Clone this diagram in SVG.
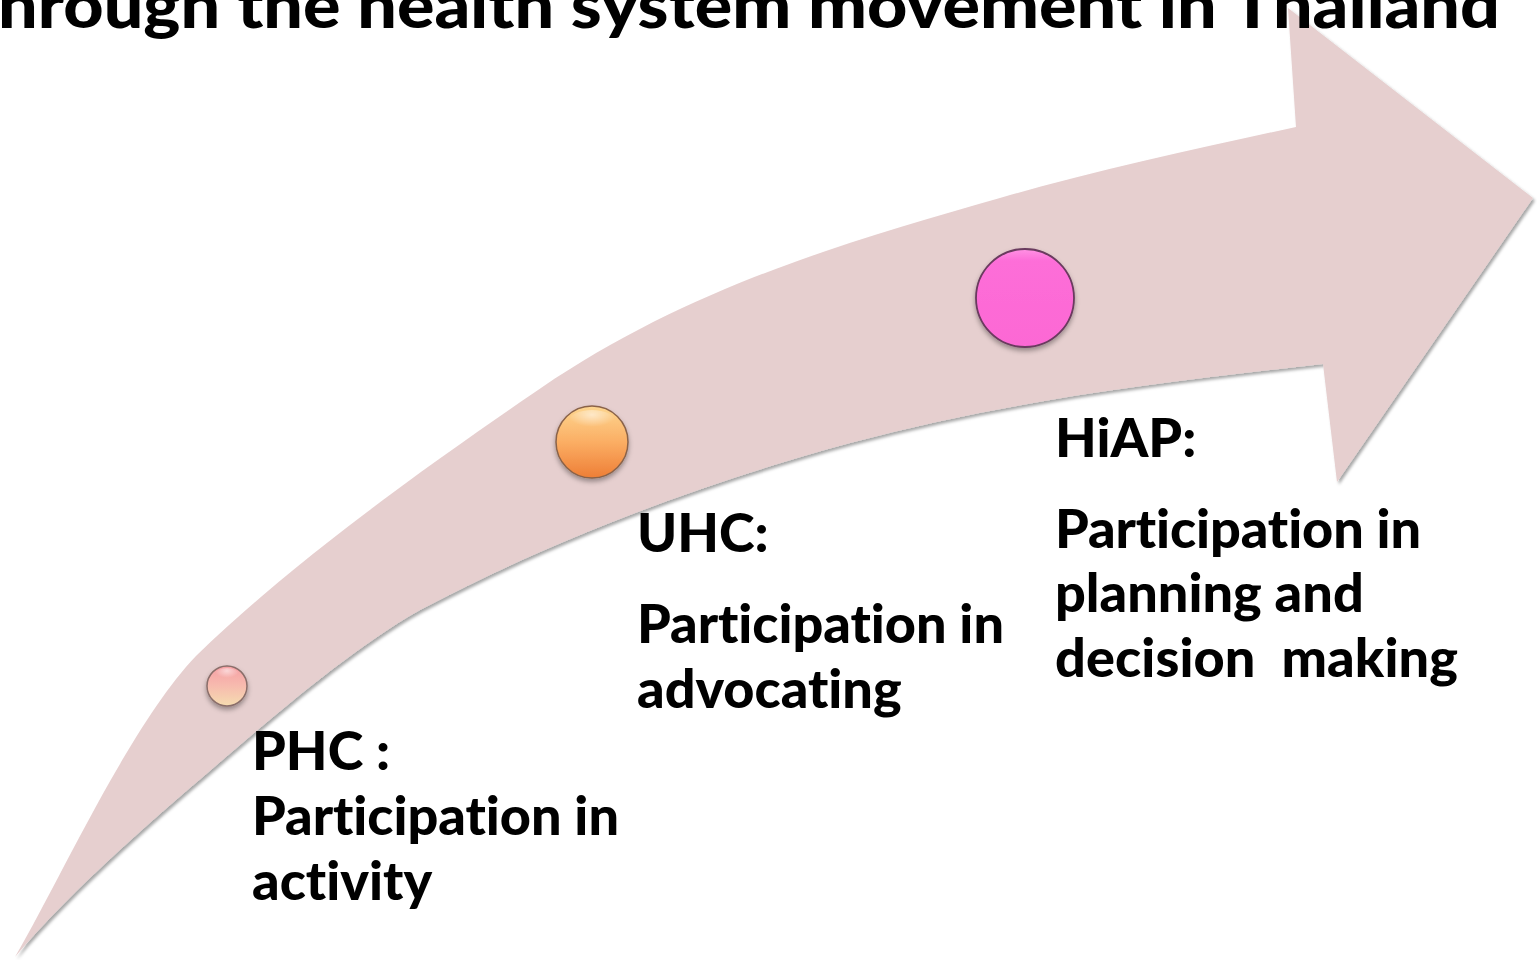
<svg xmlns="http://www.w3.org/2000/svg" width="1537" height="960" viewBox="0 0 1537 960">
<defs>
<filter id="arrowShadow" x="-5%" y="-5%" width="110%" height="110%">
<feDropShadow dx="2" dy="2.5" stdDeviation="1.6" flood-color="#000" flood-opacity="0.35"/>
</filter>
<filter id="dotShadow" x="-30%" y="-30%" width="160%" height="170%">
<feDropShadow dx="0" dy="3" stdDeviation="2.5" flood-color="#000" flood-opacity="0.35"/>
</filter>
<linearGradient id="gPHC" x1="0" y1="0" x2="0" y2="1">
<stop offset="0" stop-color="#f5a0a4"/>
<stop offset="0.45" stop-color="#f7b8ae"/>
<stop offset="1" stop-color="#f5dcb0"/>
</linearGradient>
<linearGradient id="gUHC" x1="0" y1="0" x2="0" y2="1">
<stop offset="0" stop-color="#fdd690"/>
<stop offset="0.5" stop-color="#fbae64"/>
<stop offset="1" stop-color="#ee7e36"/>
</linearGradient>
<linearGradient id="gHiAP" x1="0" y1="0" x2="0" y2="1">
<stop offset="0" stop-color="#ff92e4"/>
<stop offset="0.12" stop-color="#fd6ed8"/>
<stop offset="1" stop-color="#fc68d4"/>
</linearGradient>
<radialGradient id="gloss" cx="0.5" cy="0.2" r="0.5">
<stop offset="0" stop-color="#fff" stop-opacity="0.55"/>
<stop offset="1" stop-color="#fff" stop-opacity="0"/>
</radialGradient>
</defs>
<style>
.lbl{font-family:Lato,"Liberation Sans",sans-serif;font-weight:900;font-size:54px;fill:#000;font-variant-ligatures:none}
.title{font-family:Lato,"Liberation Sans",sans-serif;font-weight:900;font-size:62px;fill:#000;font-variant-ligatures:none}
.arrow{fill:#e6cfcf;filter:url(#arrowShadow)}
.dot{filter:url(#dotShadow)}
</style>
<rect width="1537" height="960" fill="#fff"/>
<g id="connectors">
<path class="arrow" d="M 15 957 C 60 880, 130 725, 196 656 C 296 559, 431 463, 541 388 C 691 286, 850 241, 1000 198 C 1100 169.5, 1200 148, 1296 127 L 1288 8 L 1533 198 L 1337 482 L 1323 364 C 1163 382, 1010 400, 850 443 C 710 481, 560 536, 420 610 C 360 644, 295 698, 240 745 C 170 805, 75 885, 15 957 Z"/>
</g>
<text class="title" x="-2" y="28" textLength="1502" lengthAdjust="spacingAndGlyphs">hrough the health system movement in Thailand</text>
<g id="phc">
<circle class="dot" cx="227" cy="686" r="20" fill="url(#gPHC)" stroke="#8a6e6a" stroke-width="1.5"/>
<ellipse cx="227" cy="675" rx="12" ry="7" fill="url(#gloss)"/>
<text class="lbl" x="252" y="770">PHC :</text>
<text class="lbl" x="252" y="835" textLength="367" lengthAdjust="spacing">Participation in</text>
<text class="lbl" x="252" y="900">activity</text>
</g>
<g id="uhc">
<circle class="dot" cx="592" cy="442" r="36" fill="url(#gUHC)" stroke="#8a6248" stroke-width="1.5"/>
<ellipse cx="592" cy="422" rx="24" ry="12" fill="url(#gloss)"/>
<text class="lbl" x="637" y="552">UHC:</text>
<text class="lbl" x="637" y="643" textLength="367" lengthAdjust="spacing">Participation in</text>
<text class="lbl" x="637" y="708">advocating</text>
</g>
<g id="hiap">
<circle class="dot" cx="1025" cy="298" r="49" fill="url(#gHiAP)" stroke="#6a3a5e" stroke-width="1.8"/>
<text class="lbl" x="1055" y="457">HiAP:</text>
<text class="lbl" x="1055" y="548" textLength="366" lengthAdjust="spacing">Participation in</text>
<text class="lbl" x="1055" y="612">planning and</text>
<text class="lbl" x="1055" y="677" textLength="403" lengthAdjust="spacing" xml:space="preserve">decision  making</text>
</g>
</svg>
